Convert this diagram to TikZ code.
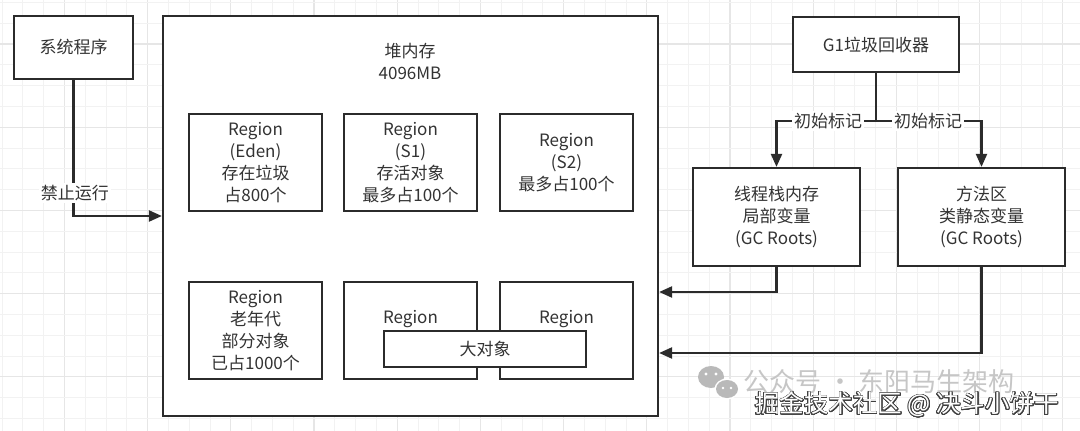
\documentclass[tikz,border=0pt]{standalone}
\usepackage{fontspec}
\setmainfont{Noto Sans CJK SC}
\usepackage{contour}
\contourlength{0.7pt}
\contournumber{24}
\usetikzlibrary{arrows.meta}
\definecolor{linec}{HTML}{2B2B2B}
\definecolor{textc}{HTML}{333333}
\definecolor{gridminor}{HTML}{F2F2F2}
\definecolor{gridmajor}{HTML}{E6E6E6}
\tikzset{
  box/.style={draw=linec, line width=2.2pt, fill=white, inner sep=0pt, text=textc,
    font=\fontsize{17}{22}\selectfont, align=center},
  plain/.style={text=textc, font=\fontsize{17}{22}\selectfont, align=center, inner sep=1pt},
  lbl/.style={plain, fill=white, inner sep=2pt},
  conn/.style={draw=linec, line width=2.2pt, -{Triangle[length=13pt,width=11pt]}},
  wire/.style={draw=linec, line width=2.2pt},
  gminor/.style={draw=gridminor, line width=1pt},
  gmajor/.style={draw=gridmajor, line width=1.3pt}
}
\begin{document}
\begin{tikzpicture}[x=1pt,y=-1pt]
\useasboundingbox (0,0) rectangle (1080,431);
\fill[white] (0,0) rectangle (1080,431);
% grid
\foreach \i in {0,...,52}{
  \pgfmathtruncatemacro{\m}{mod(\i+1,4)}
  \ifnum\m=0
    \draw[gmajor] ({2+20.8*\i},0) -- ({2+20.8*\i},431);
  \else
    \draw[gminor] ({2+20.8*\i},0) -- ({2+20.8*\i},431);
  \fi
}
\foreach \i in {0,...,21}{
  \pgfmathtruncatemacro{\m}{mod(\i+2,4)}
  \ifnum\m=0
    \draw[gmajor] (0,{2.4+20.8*\i}) -- (1080,{2.4+20.8*\i});
  \else
    \draw[gminor] (0,{2.4+20.8*\i}) -- (1080,{2.4+20.8*\i});
  \fi
}
% left program box
\node[box, minimum width=119pt, minimum height=63pt] (sys) at (73.5,47.5) {系统程序};
% heap
\node[box, minimum width=495pt, minimum height=400pt] (heap) at (410.5,216) {};
\node[plain] (heaptitle) at (410,61.5) {堆内存\\4096MB};
% regions
\node[box, minimum width=133pt, minimum height=97pt] (eden) at (255.5,162.5) {Region\\(Eden)\\存在垃圾\\占800个};
\node[box, minimum width=133pt, minimum height=97pt] (s1) at (410.5,162.5) {Region\\(S1)\\存活对象\\最多占100个};
\node[box, minimum width=133pt, minimum height=97pt] (s2) at (566.5,162.5) {Region\\(S2)\\最多占100个};
\node[box, minimum width=133pt, minimum height=97pt] (old) at (255.5,330.5) {Region\\老年代\\部分对象\\已占1000个};
\node[box, minimum width=133pt, minimum height=97pt] (r5) at (410.5,330.5) {};
\node[box, minimum width=133pt, minimum height=97pt] (r6) at (566.5,330.5) {};
\node[plain] (r5t) at (410.5,319) {Region};
\node[plain] (r6t) at (566.5,319) {Region};
\node[box, minimum width=202pt, minimum height=36pt] (big) at (485,349) {大对象};
% arrow from system program
\draw[conn] (sys.south) |- (heap.west);
\node[lbl] (stop) at (75,193) {禁止运行};
% right side
\node[box, minimum width=166pt, minimum height=55pt] (g1) at (876,44.5) {G1垃圾回收器};
\node[box, minimum width=167pt, minimum height=98pt] (stack) at (776.5,217) {线程栈内存\\局部变量\\(GC Roots)};
\node[box, minimum width=167pt, minimum height=98pt] (method) at (981.5,217) {方法区\\类静态变量\\(GC Roots)};
\coordinate (j) at (876,121);
\draw[wire] (g1.south) -- (j);
\draw[conn] (j) -| (stack.north);
\draw[conn] (j) -| (method.north);
\node[lbl] (m1) at (828,121) {初始标记};
\node[lbl] (m2) at (928,121) {初始标记};
\draw[conn] (stack.south) |- ([yshift=-76pt]heap.east);
\draw[conn] (method.south) |- ([yshift=-137pt]heap.east);
% watermark
\fill[gray!55] (711,377) ellipse (13pt and 11pt);
\fill[white] (727,389) ellipse (12.5pt and 10.5pt);
\fill[gray!55] (727,389) ellipse (11pt and 9pt);
\fill[white] (706,374) circle (1.6pt) (716,374) circle (1.6pt) (723,388) circle (1.4pt) (731,388) circle (1.4pt);
\node[text=gray!45, font=\fontsize{26}{26}\selectfont, anchor=west, inner sep=0pt] (wm1) at (743,382) {公众号 · 东阳马生架构};
\node[font=\fontsize{24.5}{24.5}\selectfont, anchor=west, inner sep=0pt] (wm2) at (755,405) {\contour{black!75}{\textcolor{white}{掘金技术社区 @ 决斗小饼干}}};
\end{tikzpicture}
\end{document}
